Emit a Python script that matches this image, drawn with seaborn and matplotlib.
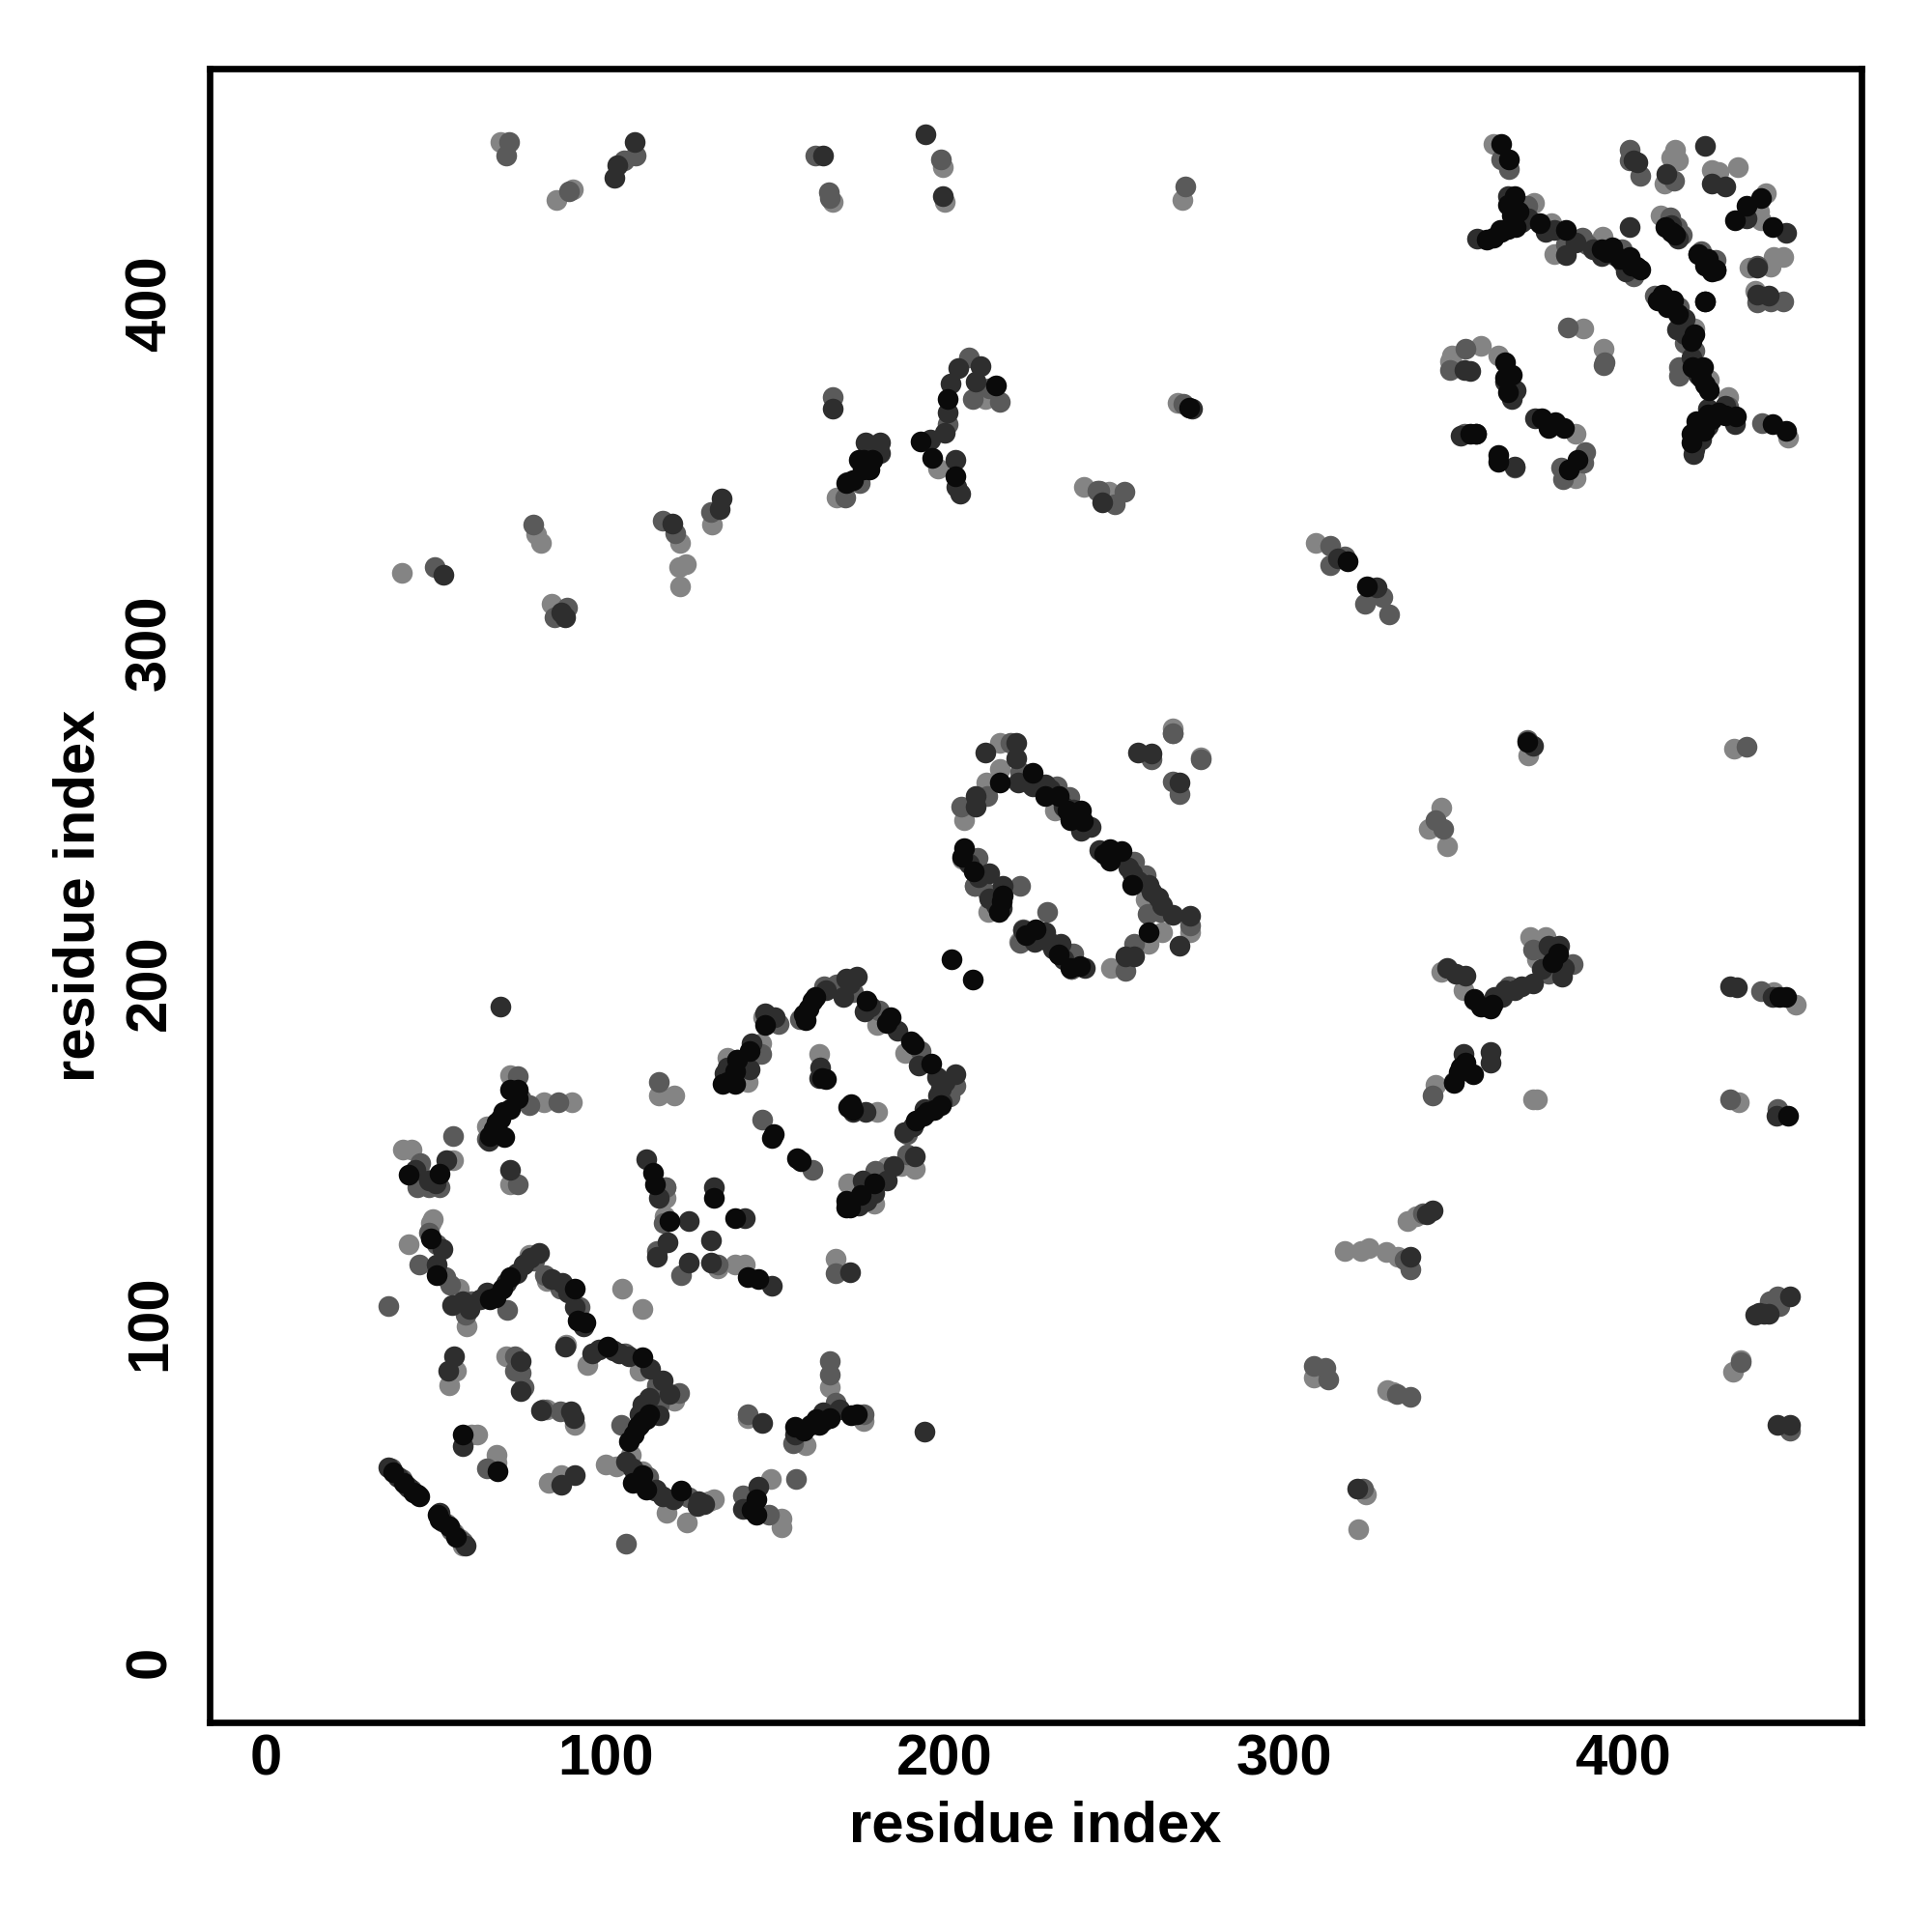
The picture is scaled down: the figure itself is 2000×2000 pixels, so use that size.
import matplotlib
matplotlib.use("Agg")
import matplotlib.pyplot as plt
from matplotlib.transforms import ScaledTranslation
import seaborn as sns

axis_label = "residue index"
tick_values = [0, 100, 200, 300, 400]

black_pts = [(37.5,57),(40.5,54),(43.5,51),(44.5,50.5),(45,50),(50.5,44.5),(51,43),(54,41),(56,38),
(72,169.7),(74.2,169.7),(74.2,167),(72,164),(70.1,155.7),(68,160),(67,158),(69,161),(70,163),(66,156),
(42.1,144.6),(51,144.8),(48.5,125.7),(50.4,115.1),(67.6,108.6),(69.5,111),(72,114.5),(66,108),(91.1,111),(91.7,101.6),(94.2,101),
(100.6,93.9),(110.8,90.9),(112,72.7),(109.5,70.3),(108.2,68),(110,71),(111,72),(107,66),(113,74),(110.8,56.2),(122.2,51.5),(108,54),(112,52),
(58,68),(68.2,57.4),(144.4,49.1),(144.4,44.4),(143,46),(172.4,73.9),(162.2,72.7),(160.3,70.9),(158.4,69.2),(155.9,70.3),(164,72),(166,73),(163,71),(174,74),
(113.9,145.1),(114.6,141.6),(119,131),(132.1,137.7),(138.1,131.9),(141.9,114.5),(145.1,113.9),
(147,188.7),(158.4,191.9),(160,193.6),(161.1,195.7),(159,190),(162,197),(176.9,195.7),(184,190.8),(182.9,189.2),(190,183.8),(191,183),(196,177.2),
(197,163.7),(193.8,162),(191.6,160.4),(195,163),(199,165),(179.1,141.9),(170.9,137),(175.3,138.7),(170.9,134.9),(172,135),(142.6,181),(138.8,178.3),(138.2,175.1),(134.4,171.3),(138.2,171.3),(136,172),
(164.9,172.6),(163.8,172.9),(172.5,165.3),(171.5,164.5),(173,163.5),(149.7,156.4),(149,155.5),(156.5,149.5),(157.5,148.5),
(216.1,259.9),(225.9,262.8),(229.7,256),(233.5,256),(236.3,251.7),(240.1,251.7),(237,249),(240.6,248.7),(239,250),
(248.8,240.3),(252.1,239.7),(248.8,237),(247,239),(255.3,230),(205.8,240.8),(205,238),(208.5,233.8),(217,226.7),(216.7,225),(216,222),
(226.7,216.9),(224,215),(233.5,209.3),(237,205.5),(240,206),(260,215.8),(202,208),(208.2,201.9),
(364.1,447.8),(366.2,443.5),(367.9,432.6),(368.4,423.6),(366,423),(364,422),(366,430),(369,428),(363.6,422.7),(361.7,420.3),(359.8,419.8),(367,427),
(375.5,424.5),(383,422.7),(393.5,417),(396.8,417.4),(395,416),(402,414.6),(403.9,411.8),(405,411),(402.5,412),(399,414),
(412.5,423.6),(415.3,421.2),(414,422),(422,415.6),(424.8,414.1),(424,412),(427.2,411),(426,410.5),
(432.9,425.5),(436.2,429.8),(444.1,423.6),(440.5,432.1),(424.1,401.5),
(411.5,403.7),(410,402),(414.8,401.8),(413,400),(416,398),(421,392),(420,390),(423.4,382.4),(420.5,382.4),(423,379),(425.1,375.3),(424,377),
(433.3,367.7),(424.8,368.2),(421.5,366.3),(420.1,362.5),(420.1,360.2),(423.9,363.5),(426,367),(428,369),(422,364),(430,368),
(444.1,365.4),(448.1,363.5),(365,383.8),(367,380),(365,379),(366,375),(376,367.3),(378,364.4),(382.6,364.4),(380,366),(386.4,355),(384,352),
(356.5,362.5),(355,362.5),(363,354.5),(363,356.5),(176,355),(174.6,355),(175.7,352),(177.9,352),(173,349),(178.6,355),(171,348),
(193,360.5),(196.4,355.5),(203,350),(201,373),(215,376.8),(272,370.3),(371.7,272),
(318.7,325),(324.5,317.7),(356,196.4),(360.8,193.5),(361.5,194.6),(358,194),(350,171.7),(351.4,174.6),(353.5,177.5),(355.7,174),(352,176),(380.8,209.8),(379,207),
(447.9,197),(446,197),(448.6,162)]

dark_pts = [(36,58.5),(39,55.5),(42,52.5),(51,45),(52,42.5),(58.7,35.5),(55.5,91),(53.6,86.8),(58,64.7),(75,89.8),(75,80.9),(89.8,75),(90.7,72.9),(80.9,75.3),
(86.9,53.3),(91.1,56.2),(88.2,93.9),(52,122.8),(50.4,118),(54.9,106.3),(58,107.4),(65,109.8),(70.7,112.8),(73.9,115.7),(80.3,121.6),(87.3,112.8),(91.1,105.7),(93.6,99.8),
(102.5,92.7),(113.3,87.4),(115.8,73.9),(114.6,51.5),(127.3,48.6),(145.1,52.7),(140.6,46.2),(169,75.6),(164.1,74.5),(155.9,68),(146.1,71.5),(194,69),
(53,148.9),(72,146),(65.7,154.6),(112,149),(115.8,137.7),(124.7,131),(118.4,124.8),(115.2,120.4),(124.7,118.6),(131.1,125.1),(132.1,141),(141,131.9),(131.1,118.6),(149.1,111.9),(172.1,115.9),
(150,190.8),(170.9,202.2),(174.2,202.8),(176.4,192.5),(192.2,176.7),(197.6,173.4),(203,174),(199.2,165.8),(190.5,158.8),(191.1,150.1),(182.9,143),(175.8,143),(179.1,139.2),(174.7,135.4),(143.1,183.2),(138.8,178.3),(142.6,175.6),(135,174.5),
(163.3,176.2),(163.1,172.9),(173.1,163.1),(176.6,163.1),
(212.1,268.9),(221,271.8),(221,267.1),(221.6,259.9),(229.7,259.3),(209,256),(209,252.8),(240.1,245.7),(245.5,240),(255.3,233.2),(260.2,230),(263,226.2),(267.3,221),(272.2,220.7),(269.2,212),(255.9,208.8),(253.2,208.8),
(213.2,233.4),(217,229.7),(216.7,222.9),(223.2,216.4),(229.7,215.8),(226.5,213.1),(230.8,213.1),(234.1,212.6),(241.2,205.5),(257,268.9),(260.8,268.6),(269.2,260),
(366,432.6),(369.3,427.4),(357,420),(379.7,422.7),(383,415.1),(393.5,415),(400.6,410.3),(402,414),(402,423.6),(422,415.6),(427.2,410.8),(436.2,426),(448.1,421.7),
(439.5,411.6),(439.5,403.7),(442.8,403.2),(424.1,401.5),(418.2,396.6),(415.8,393.3),(433,365.4),(425,370),(420.7,356.6),(430,371),
(374,367.3),(367,373),(355,381),(353.2,381.5),(365,378),(368.4,375.3),(404.2,442.5),(412.8,439.2),(424.1,447.5),(426,436.4),(430,435.4),
(356.5,362.5),(368,353),(352,362),(403,443),(167,370),
(69,194),(102.7,438),(103.4,441.7),(108.5,448.5),(194.2,450.7),(199.3,432.5),(164,444.5),(176.8,360),(181,360),(180.8,357),(171.3,348.5),(195.6,361),(200,363),(203,355),(204.7,345),(203.5,347),
(201,369),(201.8,377.5),(204,382),(210.5,382.6),(209,378),(272.9,370),(246.5,342.4),(52.3,321),(88,308.7),(87,310),(119.8,336.2),(133.6,340.6),(134.3,343.5),
(316,326),(327.4,317.4),(348,205.4),(350.6,203.6),(353.5,203),(364.4,197),(368,199),(373.5,201),(382.6,205.4),(381.8,202.9),(350,172),(352.8,180),(360.8,180.8),(360.8,177.5),
(373.5,270.7),(431.6,200),(433.4,199.6),(444,197),(445,162),(343.7,134),(342,133),(337.2,120.3),(321.6,52.2),(438.8,103.3),(441.4,103.6),(442.8,103.6),(449,108.7),(445.4,71),(449,71),(440,104),
(96,92),(98,93),(104,92),(107,91),(117,84),(119,80),(111,77),(113,79),(110,74),(106,60),(108,58),(115,52),(117,50),(120,49),(127,47),(129,47.5),
(44,146),(48,143),(50,142),(60,105),(63,108),(76,118),(78,120),(84,114),(89,110),
(147,192),(165,199),(170,197),(172,201),(178,194),(186,187),(199,170),(200,172),(198,168),(194,164),(188,157),(185,147),(176,140),(177,137),(136,176),(140,177),
(226,259),(231,258),(235,253),(238,252),(243,247),(250,238),(254,235),(257,231),(261,228),(264,224),(207,236),(210,232),(213,226),(215,224),(227,214),(232,211),(235,208),
(370,425),(372,426),(377,422),(386,419),(391,417),(398,415),(400,413),(414,424),(416,420),(418,392),(420,385),(422,380),(425,365),(427,369),(421,358),(423,361),
(356,196),(362,197),(365,199),(370,200),(376,205),(381,212),(378,212)]

mid_pts = [(37,58),(40,55),(41.5,53),(43,52),(54.5,40),(58,36.5),(73.3,91),(73.3,86.8),(75,86.2),(75.8,82.1),(81.5,75.6),(86.6,74.8),(65,58),
(74.2,173.6),(77.7,165),(75,167),(86,165.9),(44.7,141),(45.3,148.1),(47.9,141),(51,141),(74.2,141.8),(55.1,156),(65,155),
(47.9,127.5),(50.4,124),(52.9,114.5),(54.2,112.2),(60.6,107.4),(58.7,103.3),(71.1,104.9),(82.2,115.1),(86.6,111),(92.3,105.7),(79,119.2),
(105.7,92.1),(115.2,82.7),(121.6,80.4),(115.8,76.8),(112.7,55.6),(104.7,70.9),(124.7,49.7),(106,36),(36,106),(45,118),
(140.6,50.3),(148.2,44.4),(156.1,55),(166,89.8),(166,85.7),(167.9,77.4),(176.2,74.1),(155.2,65.6),(141.9,74),
(115.8,172),(117.8,141),(117.1,130.4),(115.2,122.2),(122.2,115.1),(133,118),(167.9,115.7),
(151.1,189),(157.3,190.3),(164.4,200.1),(168.2,200.6),(173.1,198.4),(180.7,193),(192.9,181),(203,170.7),(201.4,167.5),(188.9,156.6),(188.9,150.6),(179.6,145.7),(145.9,180),(146.1,160.9),(161.1,146),
(219.4,271.8),(222.1,263.1),(233,258.8),(236.8,255.8),(212.6,256),(204.9,253),(255.9,236.7),(259.1,232.7),(259.7,221.3),(263.5,221.8),(272.2,218),(255.9,212.6),(253.2,204.7),
(209.6,237.9),(208.8,229.7),(212.8,227.3),(222.1,229.7),(230.3,222),(223.2,216.9),(222.1,212.8),(237.9,209.6),(237.4,205),(267.3,260.4),(269.2,256.6),(260.8,266.9),(275.5,266.9),(267.3,274.5),
(364.1,443.5),(366.2,440.6),(371.7,429.8),(387.8,420.3),(389.2,418.4),(383,418.4),(399.7,417),(403,408.9),(413.9,426.4),(415.8,423.6),(417.2,421.2),(422.9,416.5),(427.2,413.7),
(439.5,412.2),(447.1,401.5),(443.5,401.6),(439.5,401.3),(409.2,403.2),(416.3,399.9),(418,389.5),(421,387.1),(416.3,382.4),(416.3,379.6),(431,370.6),(430.5,368),(440.9,365.8),
(383.5,393.8),(394.4,383.8),(394.2,382.9),(353.6,387.6),(348.9,381.5),(388.8,357.3),(388.3,354),(381.6,352.6),(382.1,349.3),(353.2,362.5),(368,352.6),
(402,446.3),(402,443),(405.1,438.5),(415,437),
(71.5,448.5),(70.8,444.5),(89.3,434),(105.6,443),(108.9,444.5),(161.9,444.5),(165.9,433.7),(166.2,432),(199,443.5),(271,435.5),(167,373.5),(170.6,344),(175,348),(201,365.6),(207,385),(208.3,373),(216.3,372),(213,376),
(270.4,371.4),(245,346),(245.7,346),(250,342),(253,345.6),(313.6,329.7),(318,326.4),(313.6,324),(323.8,312.7),(328.9,314.5),(331,309.4),(49.7,323.5),(78.8,336),(85,308.7),(88.6,311.6),(116.9,337),(120.5,333.3),(131,339.5),
(343.7,168),(366.2,200),(378,203.6),(385,206.5),(373.5,210.9),(378,208),(371.7,272.5),(344.5,249),(347,246.4),(436.3,270.6),(440.6,198.6),(431.6,166.7),(445.4,163.8),(340.8,133.3),(335.4,119.6),(337.2,116.7),
(308.9,88.4),(312.2,87.7),(312.9,84.4),(333.2,80),(337.2,79.3),(323.4,52.2),(443.2,107.2),(445.4,108.7),(434.5,89.5),(449,69.2),(446,106)]

light_pts = [(38.5,56),(53,42),(55.5,39),(57,37.5),(58,35.5),(55.9,86.8),(54,82.7),(60.6,68),(62.2,68),(67.8,62.1),(67.8,59.8),(70.7,91),(82.8,75.6),(91.1,70.9),(83.4,53.9),(86.9,56.2),(88.5,94.5),(94.6,88.6),(105,111),(111,105),(42.1,124),
(72,173.8),(81.9,165.9),(90.2,166),(65,158.7),(40.2,151.9),(42.8,151.9),(46,144),(55.1,148.9),(72,141.6),
(49.1,131.6),(48.5,130.4),(56.8,111),(58.7,106),(59,100),(77.7,121),(82.8,113.3),(110.1,86.8),(115.2,82.1),(120.3,78),(107.6,62.1),(100,59.2),(103.1,58.6),(110.8,57.4),(118.4,49.1),(118.1,45),(130.5,48.6),(132.1,49.1),(124.1,42.1),
(148.9,55),(143.2,47.4),(152,43.3),(152,40.9),(166,82.1),(176.2,72.1),(159,65),(141.9,73),
(115.8,167.9),(120.3,167.9),(117.8,141),(117.8,137.7),(117.4,132.2),(133,116.9),(138.1,118),(141,118),(167.9,119.8),
(146.4,191),(166,199.5),(180.2,188.7),(188.3,180.5),(191.1,146.3),(187.2,147.1),(182.9,146.8),(171.5,141.9),(179.1,135.9),(145.9,183.2),(136,178.9),(142,171.8),(163.1,180),(180.2,163.1),
(216.1,271.8),(216.1,263.9),(212.3,259.9),(205.8,248.8),(225.4,259.3),(232.5,251.7),(205.2,237.6),(208.8,229.7),(212.8,221.8),(222,213),(259.1,225.6),(264,215.8),(272.2,215.8),(260,212.6),(249.1,205.5),(237.4,205),
(267.3,276),(267.3,274.5),(275.5,267.5),
(361.7,447.8),(373.6,430.7),(378.8,424.5),(379.7,415.6),(394,420.5),(411.1,426.9),(427.2,411),(440,427.9),(440.5,425.5),(441.9,433.5),(437.1,411.6),(443.3,411.8),(444.3,414.6),(447.1,414.6),(439,404.7),(421,393.6),(425.3,378.6),(431,373.4),(448.5,361.6),
(388.1,393.6),(394.2,387.6),(349.4,385.7),(357.9,388.4),(348.9,384),(363.1,385.7),(385.9,362.5),(386,349.7),(415.1,446.3),(412,436.4),(414,444),(416,443),(426.2,440.2),(428.1,439.7),(433.8,441.1),
(69,448.5),(85.7,431.5),(90.4,434.5),(167,431),(199.3,441),(200,431),(270,431.5),(168,344),(198,352.5),(212,373),(268.6,371.7),(241,347),(248.3,345.6),(309.3,330.4),
(40,321.7),(79.5,333),(81,330.4),(84.2,312.7),(122,330.4),(123.8,324.3),(121.6,323.5),(122,317.8),(131.4,336),
(344.5,171),(346.3,204.3),(352.8,199),(372.4,214.5),(377,214.5),(374.6,208),(373.5,166.7),(374.5,166.7),(372,268.1),(342.6,246.4),(346.3,252.5),(348,241.3),(432.7,270),(444.3,198.2),(450.8,194.6),(434,166),
(339,132.2),(336.5,131),(318,122),(322.7,122),(324.9,123),(330,121.7),(333.6,120.3),(308.9,85),(330.3,81.2),(332,80.5),(324.1,50.4),(322,40.2),(434.5,89.9),(432.3,86.6)]

sns.set_theme(style="white")
plt.rcParams["font.family"] = ["Liberation Sans", "DejaVu Sans"]
plt.rcParams["font.weight"] = "bold"

fig = plt.figure(figsize=(10, 10), dpi=200)
ax = fig.add_axes([0.1084, 0.1084, 0.8553, 0.8559])

levels = [(light_pts, "#848484"), (mid_pts, "#5a5a5a"), (dark_pts, "#2e2e2e"), (black_pts, "#0a0a0a")]
for pts, shade in levels:
    xs = [p[0] for p in pts]
    ys = [p[1] for p in pts]
    sns.scatterplot(x=xs, y=ys, color=shade, s=60, linewidth=0, alpha=1, ax=ax, legend=False)

ax.set_xlim(-16.7, 470.3)
ax.set_ylim(-16.7, 470.0)
ax.set_xticks(tick_values)
ax.set_yticks(tick_values)
ax.tick_params(length=0, labelsize=21.5)
ax.tick_params(axis="x", pad=4)
ax.tick_params(axis="y", pad=12)
offset = ScaledTranslation(0, 1.4 / 72, fig.dpi_scale_trans)
for lab in ax.get_yticklabels():
    lab.set_rotation(90)
    lab.set_va("center")
    lab.set_transform(lab.get_transform() + offset)
ax.set_xlabel(axis_label, fontsize=21.5, fontweight="bold", labelpad=5, color="black")
ax.set_ylabel(axis_label, fontsize=21.5, fontweight="bold", labelpad=7, color="black")
for lab in ax.get_xticklabels() + ax.get_yticklabels():
    lab.set_fontweight("bold")
    lab.set_color("black")
for spine in ax.spines.values():
    spine.set_visible(True)
    spine.set_linewidth(2.4)
    spine.set_color("black")
ax.grid(False)
fig.savefig("out.png", dpi=200, facecolor="white")
